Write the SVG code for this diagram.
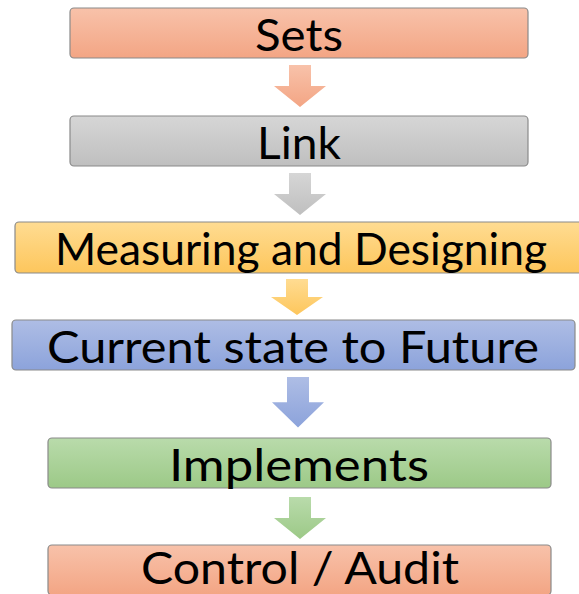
<svg xmlns="http://www.w3.org/2000/svg" width="579" height="594" viewBox="0 0 579 594">
<defs>
<linearGradient id="gOr" x1="0" y1="0" x2="0" y2="1"><stop offset="0" stop-color="#f8c2aa"/><stop offset="1" stop-color="#f3a584"/></linearGradient>
<linearGradient id="gGy" x1="0" y1="0" x2="0" y2="1"><stop offset="0" stop-color="#d6d6d6"/><stop offset="1" stop-color="#bfbfbf"/></linearGradient>
<linearGradient id="gYe" x1="0" y1="0" x2="0" y2="1"><stop offset="0" stop-color="#ffdc92"/><stop offset="1" stop-color="#fdc65c"/></linearGradient>
<linearGradient id="gBl" x1="0" y1="0" x2="0" y2="1"><stop offset="0" stop-color="#aebde5"/><stop offset="1" stop-color="#8ca3db"/></linearGradient>
<linearGradient id="gGr" x1="0" y1="0" x2="0" y2="1"><stop offset="0" stop-color="#b9dbab"/><stop offset="1" stop-color="#9cc987"/></linearGradient>
<path id="arr" d="M-11,0 H11 V21 H26 L0,42 L-26,21 H-11 Z"/>
</defs>
<style>
.box{stroke:#8a8a8a;stroke-width:1.2}
.t{font-family:Lato,"Open Sans","Liberation Sans",sans-serif;font-size:45px;fill:#000;text-anchor:middle}
</style>
<g id="connectors">
<use href="#arr" x="300" y="65" fill="url(#gOr)"/>
<use href="#arr" x="300" y="173" fill="url(#gGy)"/>
<use href="#arr" x="297" y="279" fill="url(#gYe)" transform="translate(297 279) scale(1 0.86) translate(-297 -279)"/>
<use href="#arr" x="298" y="377" fill="url(#gBl)" transform="translate(298 377) scale(1 1.2) translate(-298 -377)"/>
<use href="#arr" x="300" y="497" fill="url(#gGr)"/>
</g>
<g id="node-sets">
<rect class="box" x="70" y="8" width="458" height="50" rx="4" fill="url(#gOr)"/>
<text class="t" x="299" y="51" textLength="88" lengthAdjust="spacingAndGlyphs">Sets</text>
</g>
<g id="node-link">
<rect class="box" x="70" y="116" width="458" height="50" rx="4" fill="url(#gGy)"/>
<text class="t" x="299" y="159" textLength="84" lengthAdjust="spacingAndGlyphs">Link</text>
</g>
<g id="node-measuring">
<rect class="box" x="15" y="222" width="570" height="51" rx="4" fill="url(#gYe)"/>
<text class="t" x="301" y="265" textLength="492" lengthAdjust="spacingAndGlyphs">Measuring and Designing</text>
</g>
<g id="node-current">
<rect class="box" x="12" y="320" width="563" height="50" rx="4" fill="url(#gBl)"/>
<text class="t" x="293" y="363" textLength="492" lengthAdjust="spacingAndGlyphs">Current state to Future</text>
</g>
<g id="node-implements">
<rect class="box" x="48" y="438" width="503" height="50" rx="4" fill="url(#gGr)"/>
<text class="t" x="299" y="481" textLength="260" lengthAdjust="spacingAndGlyphs">Implements</text>
</g>
<g id="node-control">
<rect class="box" x="48" y="545" width="503" height="50" rx="4" fill="url(#gOr)"/>
<text class="t" x="300" y="584" textLength="318" lengthAdjust="spacingAndGlyphs">Control / Audit</text>
</g>
</svg>
